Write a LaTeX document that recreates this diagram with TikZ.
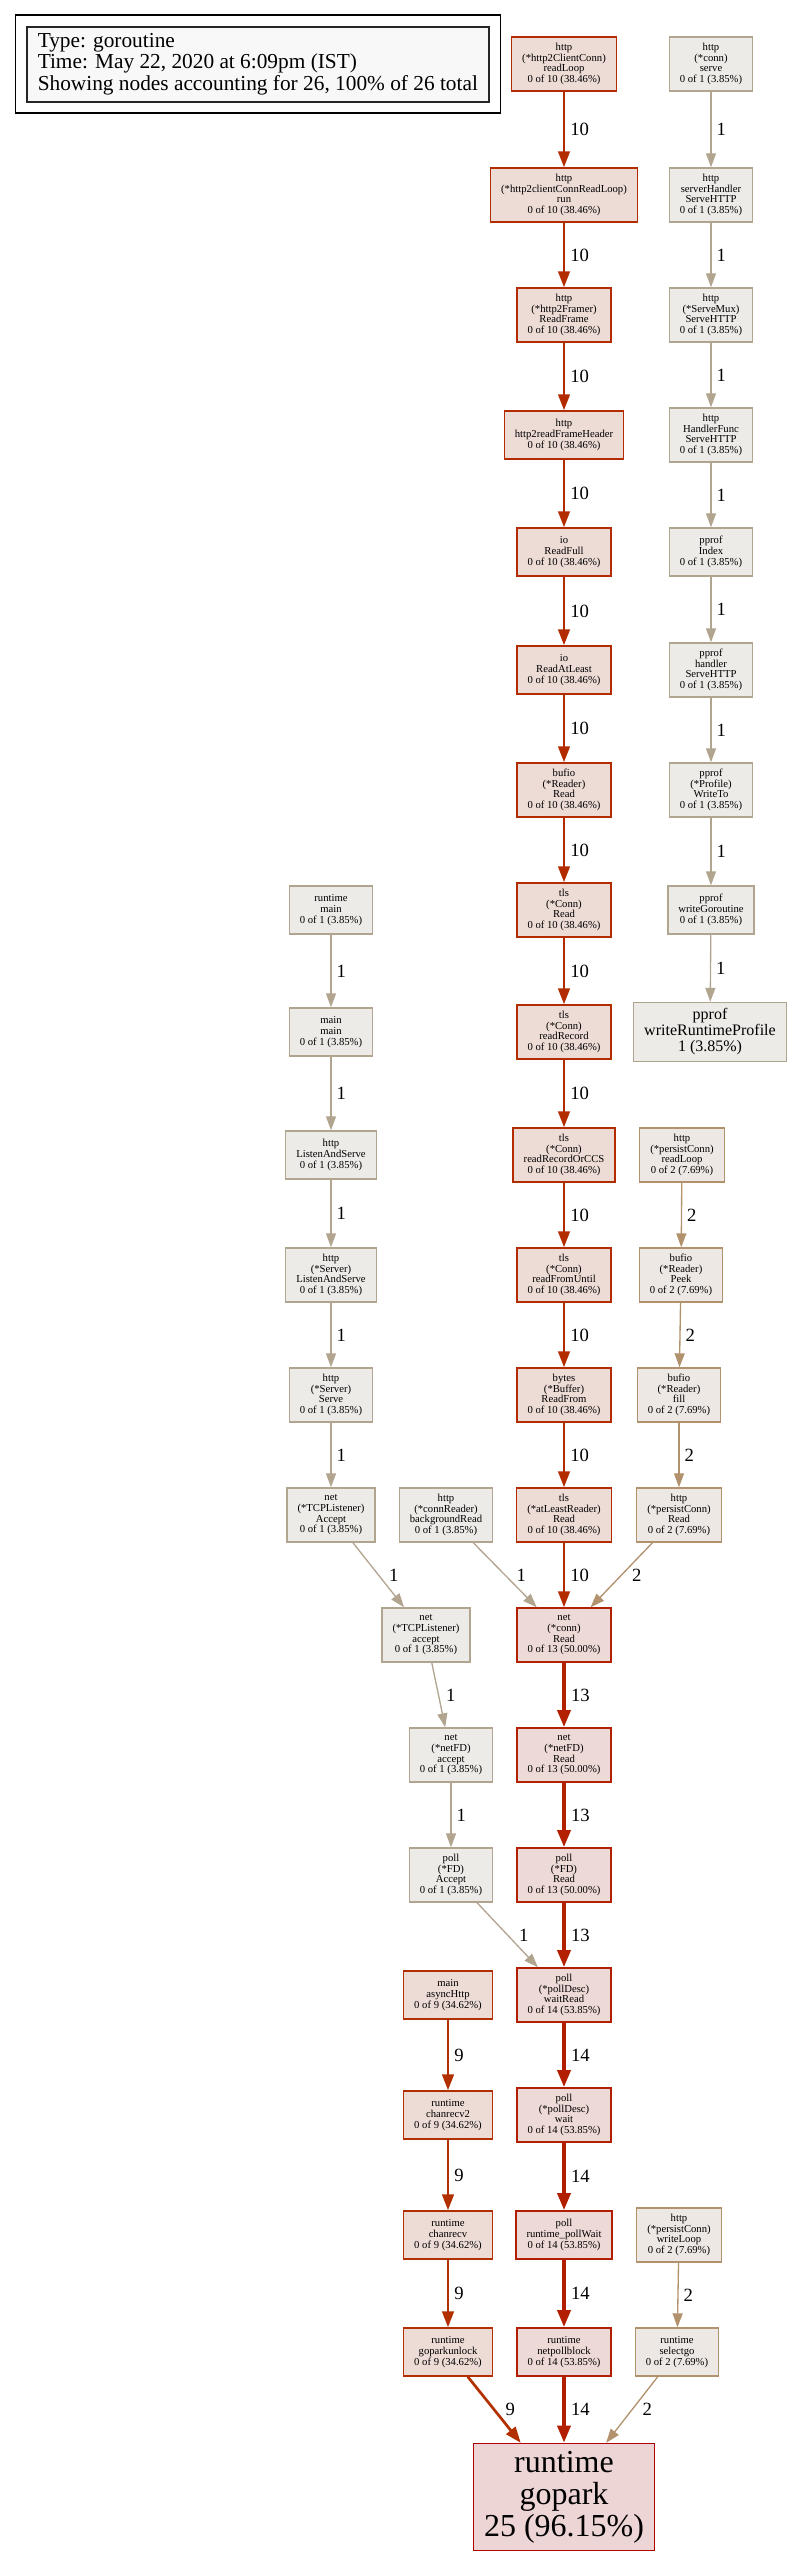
\documentclass[tikz,border=0pt]{standalone}
\usepackage{fontspec}
\setmainfont{Liberation Serif}
\usetikzlibrary{arrows.meta,fit}
\definecolor{fA}{HTML}{EDDBD5}
\definecolor{fB}{HTML}{EDD9D5}
\definecolor{fG}{HTML}{EDD5D5}
\definecolor{fC}{HTML}{EDEBE8}
\definecolor{fD}{HTML}{EDE8E4}
\definecolor{cNine}{HTML}{B23000}
\definecolor{cTen}{HTML}{B22C00}
\definecolor{cThirteen}{HTML}{B22100}
\definecolor{cFourteen}{HTML}{B21E00}
\definecolor{cTwentyFive}{HTML}{B20200}
\definecolor{cOne}{HTML}{B2A590}
\definecolor{cTwo}{HTML}{B2926D}
\definecolor{legfill}{HTML}{F8F8F8}
\begin{document}
\begin{tikzpicture}[x=1pt,y=-1pt,
  nd/.style={draw, rectangle, align=center, inner xsep=10.56pt, inner ysep=2pt,
    minimum width=72pt, line width=1.4pt, font=\fontsize{10.67}{10.67}\selectfont},
  four/.style={minimum height=54pt},
  three/.style={minimum height=48pt},
  hotnine/.style={fill=fA, draw=cNine},
  hotten/.style={fill=fA, draw=cTen},
  hotthirteen/.style={fill=fB, draw=cThirteen},
  hotfourteen/.style={fill=fB, draw=cFourteen},
  coldone/.style={fill=fC, draw=cOne},
  coldtwo/.style={fill=fD, draw=cTwo},
  elab/.style={anchor=west, inner sep=0pt, xshift=5pt, text=black,
    font=\fontsize{18.67}{18.67}\selectfont},
  elabd/.style={anchor=west, inner sep=0pt, xshift=11pt, text=black,
    font=\fontsize{18.67}{18.67}\selectfont},
  eone/.style={draw=cOne, line width=1.33pt, line join=miter,
    -{Triangle[length=14pt,width=10pt]}},
  etwo/.style={draw=cTwo, line width=1.33pt, line join=miter,
    -{Triangle[length=14pt,width=10pt]}},
  enine/.style={draw=cNine, line width=2.67pt, line join=miter,
    -{Triangle[length=16pt,width=11.6pt]}},
  eten/.style={draw=cTen, line width=2.67pt, line join=miter,
    -{Triangle[length=16pt,width=11.6pt]}},
  ethirteen/.style={draw=cThirteen, line width=4pt, line join=miter,
    -{Triangle[length=17.3pt,width=12.9pt]}},
  efourteen/.style={draw=cFourteen, line width=4pt, line join=miter,
    -{Triangle[length=17.3pt,width=12.9pt]}},
  legend/.style={draw=black!85, line width=1.8pt, fill=legfill, rectangle,
    align=left, inner sep=0pt, minimum width=462.3pt, minimum height=75pt,
    font=\fontsize{21.33}{21.33}\selectfont}
]
\useasboundingbox (0,0) rectangle (792,2555);

% legend
\node[legend] (L) at (257.85,64.2) {Type: goroutine\\Time: May 22, 2020 at 6:09pm (IST)\\Showing nodes accounting for 26, 100\% of 26 total};
\node[draw=black, line width=1.4pt, rectangle, inner sep=10.6pt, fit=(L)] (LC) {};

% main column
\node[nd,four,hotten] (A1) at (564,64) {http\\(*http2ClientConn)\\readLoop\\0 of 10 (38.46\%)};
\node[nd,four,hotten] (A2) at (564,195) {http\\(*http2clientConnReadLoop)\\run\\0 of 10 (38.46\%)};
\node[nd,four,hotten] (A3) at (564,315) {http\\(*http2Framer)\\ReadFrame\\0 of 10 (38.46\%)};
\node[nd,three,hotten] (A4) at (564,435) {http\\http2readFrameHeader\\0 of 10 (38.46\%)};
\node[nd,three,hotten] (A5) at (564,552) {io\\ReadFull\\0 of 10 (38.46\%)};
\node[nd,three,hotten] (A6) at (564,670) {io\\ReadAtLeast\\0 of 10 (38.46\%)};
\node[nd,four,hotten] (A7) at (564,790) {bufio\\(*Reader)\\Read\\0 of 10 (38.46\%)};
\node[nd,four,hotten] (A8) at (564,910) {tls\\(*Conn)\\Read\\0 of 10 (38.46\%)};
\node[nd,four,hotten] (A9) at (564,1032) {tls\\(*Conn)\\readRecord\\0 of 10 (38.46\%)};
\node[nd,four,hotten] (A10) at (564,1155) {tls\\(*Conn)\\readRecordOrCCS\\0 of 10 (38.46\%)};
\node[nd,four,hotten] (A11) at (564,1275) {tls\\(*Conn)\\readFromUntil\\0 of 10 (38.46\%)};
\node[nd,four,hotten] (A12) at (564,1395) {bytes\\(*Buffer)\\ReadFrom\\0 of 10 (38.46\%)};
\node[nd,four,hotten] (A13) at (564,1515) {tls\\(*atLeastReader)\\Read\\0 of 10 (38.46\%)};
\node[nd,four,hotthirteen] (A14) at (564,1635) {net\\(*conn)\\Read\\0 of 13 (50.00\%)};
\node[nd,four,hotthirteen] (A15) at (564,1755) {net\\(*netFD)\\Read\\0 of 13 (50.00\%)};
\node[nd,four,hotthirteen] (A16) at (564,1875) {poll\\(*FD)\\Read\\0 of 13 (50.00\%)};
\node[nd,four,hotfourteen] (A17) at (564,1995) {poll\\(*pollDesc)\\waitRead\\0 of 14 (53.85\%)};
\node[nd,four,hotfourteen] (A18) at (564,2115) {poll\\(*pollDesc)\\wait\\0 of 14 (53.85\%)};
\node[nd,three,hotfourteen] (A19) at (564,2235) {poll\\runtime\_pollWait\\0 of 14 (53.85\%)};
\node[nd,three,hotfourteen] (A20) at (564,2352) {runtime\\netpollblock\\0 of 14 (53.85\%)};
\node[nd,fill=fG,draw=cTwentyFive,minimum height=107pt,font=\fontsize{32}{32}\selectfont] (A21) at (564,2497) {runtime\\gopark\\25 (96.15\%)};

% right column
\node[nd,four,coldone] (B1) at (711,64) {http\\(*conn)\\serve\\0 of 1 (3.85\%)};
\node[nd,four,coldone] (B2) at (711,195) {http\\serverHandler\\ServeHTTP\\0 of 1 (3.85\%)};
\node[nd,four,coldone] (B3) at (711,315) {http\\(*ServeMux)\\ServeHTTP\\0 of 1 (3.85\%)};
\node[nd,four,coldone] (B4) at (711,435) {http\\HandlerFunc\\ServeHTTP\\0 of 1 (3.85\%)};
\node[nd,three,coldone] (B5) at (711,552) {pprof\\Index\\0 of 1 (3.85\%)};
\node[nd,four,coldone] (B6) at (711,670) {pprof\\handler\\ServeHTTP\\0 of 1 (3.85\%)};
\node[nd,four,coldone] (B7) at (711,790) {pprof\\(*Profile)\\WriteTo\\0 of 1 (3.85\%)};
\node[nd,three,coldone] (B8) at (711,910) {pprof\\writeGoroutine\\0 of 1 (3.85\%)};
\node[nd,coldone,minimum height=59pt,font=\fontsize{16}{16}\selectfont] (B9) at (710,1032) {pprof\\writeRuntimeProfile\\1 (3.85\%)};

% left column
\node[nd,three,coldone] (C8) at (331,910) {runtime\\main\\0 of 1 (3.85\%)};
\node[nd,three,coldone] (C9) at (331,1032) {main\\main\\0 of 1 (3.85\%)};
\node[nd,three,coldone] (C10) at (331,1155) {http\\ListenAndServe\\0 of 1 (3.85\%)};
\node[nd,four,coldone] (C11) at (331,1275) {http\\(*Server)\\ListenAndServe\\0 of 1 (3.85\%)};
\node[nd,four,coldone] (C12) at (331,1395) {http\\(*Server)\\Serve\\0 of 1 (3.85\%)};
\node[nd,four,coldone] (C13) at (331,1515) {net\\(*TCPListener)\\Accept\\0 of 1 (3.85\%)};

% persistConn read column
\node[nd,four,coldtwo] (D10) at (682,1155) {http\\(*persistConn)\\readLoop\\0 of 2 (7.69\%)};
\node[nd,four,coldtwo] (D11) at (681,1275) {bufio\\(*Reader)\\Peek\\0 of 2 (7.69\%)};
\node[nd,four,coldtwo] (D12) at (679,1395) {bufio\\(*Reader)\\fill\\0 of 2 (7.69\%)};
\node[nd,four,coldtwo] (D13) at (679,1515) {http\\(*persistConn)\\Read\\0 of 2 (7.69\%)};

% accept column
\node[nd,four,coldone] (E13) at (446,1515) {http\\(*connReader)\\backgroundRead\\0 of 1 (3.85\%)};
\node[nd,four,coldone] (E14) at (426,1635) {net\\(*TCPListener)\\accept\\0 of 1 (3.85\%)};
\node[nd,four,coldone] (E15) at (451,1755) {net\\(*netFD)\\accept\\0 of 1 (3.85\%)};
\node[nd,four,coldone] (E16) at (451,1875) {poll\\(*FD)\\Accept\\0 of 1 (3.85\%)};

% asyncHttp column
\node[nd,three,hotnine] (F17) at (448,1995) {main\\asyncHttp\\0 of 9 (34.62\%)};
\node[nd,three,hotnine] (F18) at (448,2115) {runtime\\chanrecv2\\0 of 9 (34.62\%)};
\node[nd,three,hotnine] (F19) at (448,2235) {runtime\\chanrecv\\0 of 9 (34.62\%)};
\node[nd,three,hotnine] (F20) at (448,2352) {runtime\\goparkunlock\\0 of 9 (34.62\%)};

% writeLoop column
\node[nd,four,coldtwo] (G19) at (679,2235) {http\\(*persistConn)\\writeLoop\\0 of 2 (7.69\%)};
\node[nd,three,coldtwo] (G20) at (677,2352) {runtime\\selectgo\\0 of 2 (7.69\%)};

% edges: main column
\draw[eten] (A1) -- node[elab]{10} (A2);
\draw[eten] (A2) -- node[elab]{10} (A3);
\draw[eten] (A3) -- node[elab]{10} (A4);
\draw[eten] (A4) -- node[elab]{10} (A5);
\draw[eten] (A5) -- node[elab]{10} (A6);
\draw[eten] (A6) -- node[elab]{10} (A7);
\draw[eten] (A7) -- node[elab]{10} (A8);
\draw[eten] (A8) -- node[elab]{10} (A9);
\draw[eten] (A9) -- node[elab]{10} (A10);
\draw[eten] (A10) -- node[elab]{10} (A11);
\draw[eten] (A11) -- node[elab]{10} (A12);
\draw[eten] (A12) -- node[elab]{10} (A13);
\draw[eten] (A13) -- node[elab]{10} (A14);
\draw[ethirteen] (A14) -- node[elab]{13} (A15);
\draw[ethirteen] (A15) -- node[elab]{13} (A16);
\draw[ethirteen] (A16) -- node[elab]{13} (A17);
\draw[efourteen] (A17) -- node[elab]{14} (A18);
\draw[efourteen] (A18) -- node[elab]{14} (A19);
\draw[efourteen] (A19) -- node[elab]{14} (A20);
\draw[efourteen] (A20) -- node[elab]{14} (A21);

% right column
\draw[eone] (B1) -- node[elab]{1} (B2);
\draw[eone] (B2) -- node[elab]{1} (B3);
\draw[eone] (B3) -- node[elab]{1} (B4);
\draw[eone] (B4) -- node[elab]{1} (B5);
\draw[eone] (B5) -- node[elab]{1} (B6);
\draw[eone] (B6) -- node[elab]{1} (B7);
\draw[eone] (B7) -- node[elab]{1} (B8);
\draw[eone] (B8) -- node[elab]{1} (B9);

% left column
\draw[eone] (C8) -- node[elab]{1} (C9);
\draw[eone] (C9) -- node[elab]{1} (C10);
\draw[eone] (C10) -- node[elab]{1} (C11);
\draw[eone] (C11) -- node[elab]{1} (C12);
\draw[eone] (C12) -- node[elab]{1} (C13);
\draw[eone] (C13) -- node[elabd,xshift=-1pt]{1} (E14);
\draw[eone] (E14) -- node[elab,xshift=2pt]{1} (E15);
\draw[eone] (E15) -- node[elab]{1} (E16);
\draw[eone] (E16) -- node[elabd]{1} (A17);
\draw[eone] (E13) -- node[elabd]{1} (A14);

% persistConn read
\draw[etwo] (D10) -- node[elab]{2} (D11);
\draw[etwo] (D11) -- node[elab]{2} (D12);
\draw[etwo] (D12) -- node[elab]{2} (D13);
\draw[etwo] (D13) -- node[elabd,xshift=-1pt]{2} (A14);

% asyncHttp
\draw[enine] (F17) -- node[elab]{9} (F18);
\draw[enine] (F18) -- node[elab]{9} (F19);
\draw[enine] (F19) -- node[elab]{9} (F20);
\draw[enine] (F20) -- node[elabd,xshift=-1pt]{9} (A21);

% writeLoop
\draw[etwo] (G19) -- node[elab]{2} (G20);
\draw[etwo] (G20) -- node[elabd,xshift=-1pt]{2} (A21);
\end{tikzpicture}
\end{document}
